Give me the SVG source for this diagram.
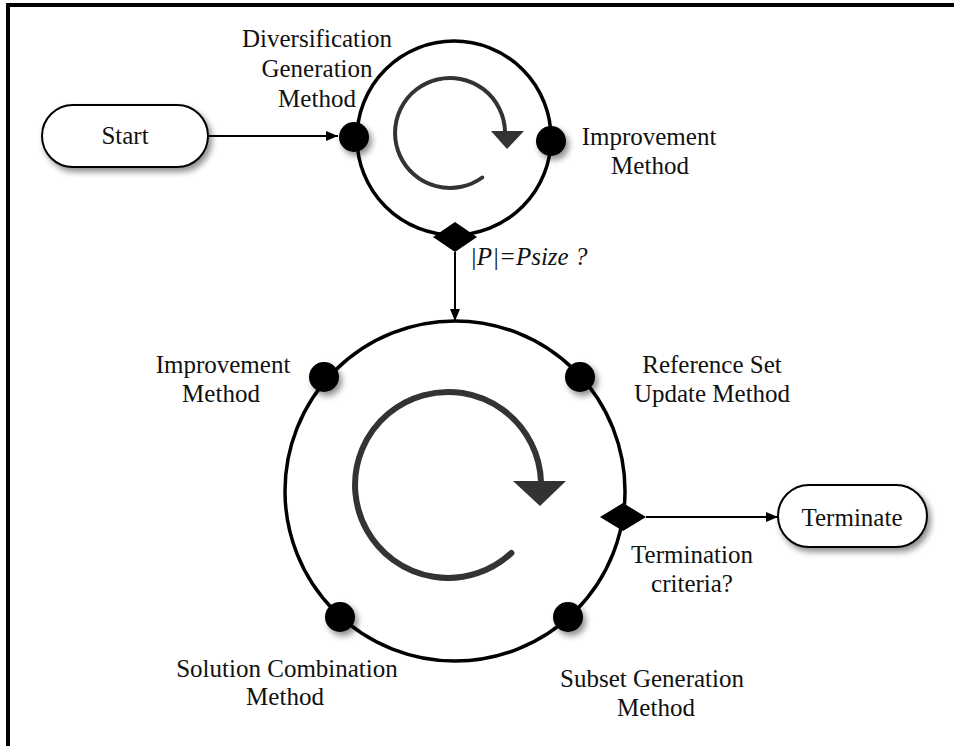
<svg xmlns="http://www.w3.org/2000/svg" width="954" height="746" viewBox="0 0 954 746">
<style>
text{font-family:"Liberation Serif","Times New Roman",serif;font-size:25px;fill:#111}
.lbl{text-anchor:middle}
.ring{fill:none;stroke:#000;stroke-width:3.5}
.dot{fill:#000;filter:url(#sh)}
.loop{fill:none;stroke:#333;stroke-linecap:round}
.term{fill:#fff;stroke:#000;stroke-width:2;filter:url(#sh)}
.edge{stroke:#000;stroke-width:2;fill:none}
</style>
<defs>
<filter id="sh" x="-30%" y="-30%" width="170%" height="170%">
<feGaussianBlur in="SourceAlpha" stdDeviation="3"/>
<feOffset dx="3" dy="4" result="b"/>
<feComponentTransfer><feFuncA type="linear" slope="0.45"/></feComponentTransfer>
<feMerge><feMergeNode/><feMergeNode in="SourceGraphic"/></feMerge>
</filter>
<marker id="ah" viewBox="0 0 12 10" refX="12" refY="5" markerWidth="12" markerHeight="10" markerUnits="userSpaceOnUse" orient="auto">
<path d="M0,0 L12,5 L0,10 Z" fill="#000"/>
</marker>
</defs>
<rect width="954" height="746" fill="#fff"/>
<g id="frame">
<line x1="6" y1="5" x2="954" y2="5" stroke="#000" stroke-width="4"/>
<line x1="8" y1="3" x2="8" y2="746" stroke="#000" stroke-width="4"/>
</g>
<g id="connectors">
<line class="edge" x1="208" y1="136" x2="338" y2="136" marker-end="url(#ah)"/>
<line class="edge" x1="455" y1="252" x2="455" y2="321" marker-end="url(#ah)"/>
<line class="edge" x1="646" y1="517" x2="778" y2="517" marker-end="url(#ah)"/>
</g>
<g id="start">
<rect class="term" x="42" y="105" width="166" height="62" rx="31"/>
<text class="lbl" x="125" y="144">Start</text>
</g>
<g id="terminate">
<rect class="term" x="778" y="485" width="149" height="62" rx="31"/>
<text class="lbl" x="852" y="526">Terminate</text>
</g>
<g id="init-cycle">
<circle class="ring" cx="454" cy="138" r="97" stroke-width="3"/>
<path class="loop" stroke-width="4" d="M482.3,177.5 A55 55 0 1 1 505,131"/>
<polygon points="491,131 524,131 507,149" fill="#333"/>
</g>
<g id="diversification">
<circle class="dot" cx="354" cy="137" r="15"/>
<text class="lbl" x="317" y="47">Diversification</text>
<text class="lbl" x="317" y="77">Generation</text>
<text class="lbl" x="317" y="107">Method</text>
</g>
<g id="improvement-1">
<circle class="dot" cx="551" cy="141" r="15"/>
<text class="lbl" x="649" y="145">Improvement</text>
<text class="lbl" x="650" y="174">Method</text>
</g>
<g id="psize-check">
<polygon points="433,237 455,222 477,237 455,252" fill="#000"/>
<text x="470" y="265" font-style="italic">|P|=Psize ?</text>
</g>
<g id="main-cycle">
<circle class="ring" cx="455" cy="491" r="170"/>
<path class="loop" stroke-width="6" d="M511.4,553 A93 93 0 1 1 541,482"/>
<polygon points="513,481 566,481 540,506" fill="#333"/>
</g>
<g id="improvement-2">
<circle class="dot" cx="324" cy="377" r="15"/>
<text class="lbl" x="223" y="373">Improvement</text>
<text class="lbl" x="221" y="402">Method</text>
</g>
<g id="refset-update">
<circle class="dot" cx="580" cy="377" r="15"/>
<text class="lbl" x="712" y="373">Reference Set</text>
<text class="lbl" x="712" y="402">Update Method</text>
</g>
<g id="termination-check">
<polygon points="600,517 623,503 646,517 623,531" fill="#000"/>
<text class="lbl" x="692" y="563">Termination</text>
<text class="lbl" x="692" y="592">criteria?</text>
</g>
<g id="subset-generation">
<circle class="dot" cx="568" cy="617" r="15"/>
<text class="lbl" x="652" y="687">Subset Generation</text>
<text class="lbl" x="656" y="716">Method</text>
</g>
<g id="solution-combination">
<circle class="dot" cx="340" cy="617" r="15"/>
<text class="lbl" x="287" y="677">Solution Combination</text>
<text class="lbl" x="285" y="705">Method</text>
</g>
</svg>
